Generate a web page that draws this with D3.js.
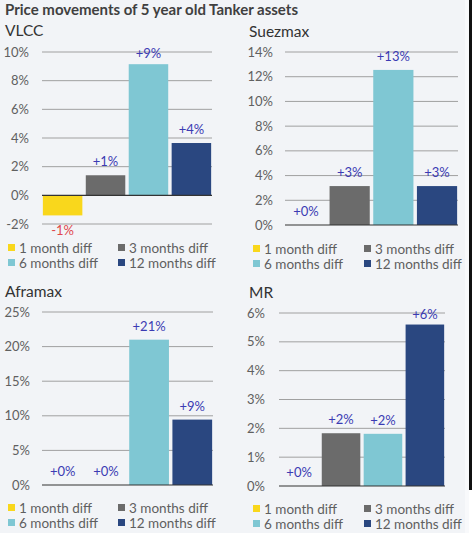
<!DOCTYPE html>
<html><head><meta charset="utf-8">
<script src="https://cdn.jsdelivr.net/npm/d3@7"></script>
<style>html,body{margin:0;padding:0;background:#fff;}svg{display:block;font-family:Lato,"Noto Sans",sans-serif;}</style>
</head><body>
<svg id="c" width="472" height="543"></svg>
<script>
const title = "Price movements of 5 year old Tanker assets";
const categories = ["1 month diff","3 months diff","6 months diff","12 months diff"];
const colors = ["#f9d71c","#6b6b6b","#7fc7d3","#2a4780"];
const panelNames = ["VLCC","Suezmax","Aframax","MR"];
const vlccValues = [-1.4, 1.4, 9.15, 3.65];
const suezmaxValues = [0, 3.15, 12.55, 3.15];
const aframaxValues = [0, 0, 21.0, 9.45];
const mrValues = [0, 1.83, 1.81, 5.6];
const vlccTicks = [-2,0,2,4,6,8,10];
const suezmaxTicks = [0,2,4,6,8,10,12,14];
const aframaxTicks = [0,5,10,15,20,25];
const mrTicks = [0,1,2,3,4,5,6];

const svg = d3.select("#c");
svg.append("rect").attr("x",0).attr("y",0).attr("width",465).attr("height",533).attr("fill","#f2f4f7");
svg.append("rect").attr("x",465).attr("y",0).attr("width",4).attr("height",533).attr("fill","#f8f9fb");
svg.append("rect").attr("x",469).attr("y",0).attr("width",3).attr("height",490).attr("fill","#111");

svg.append("text").attr("x",5).attr("y",15).attr("font-size",15).attr("font-weight","bold")
  .attr("fill","#404040").text(title);

const panels = [
  {name:panelNames[0], values:vlccValues, ticks:vlccTicks, x0:42, x1:212, yTop:52, yBot:224, nameX:5, nameY:36, tickX:29, legX:8, legX2:118, legY:248},
  {name:panelNames[1], values:suezmaxValues, ticks:suezmaxTicks, x0:285, x1:458, yTop:52, yBot:225, nameX:249, nameY:37, tickX:273, legX:253, legX2:364, legY:249},
  {name:panelNames[2], values:aframaxValues, ticks:aframaxTicks, x0:42, x1:213, yTop:312, yBot:485, nameX:5, nameY:297, tickX:30, legX:8, legX2:118, legY:508},
  {name:panelNames[3], values:mrValues, ticks:mrTicks, x0:279, x1:445, yTop:313, yBot:486, nameX:249, nameY:298, tickX:265, legX:253, legX2:364, legY:509}
];

panels.forEach(p => {
  const g = svg.append("g");
  const y = d3.scaleLinear().domain(d3.extent(p.ticks)).range([p.yBot, p.yTop]);
  const x = d3.scaleBand().domain(categories).range([p.x0, p.x1]).paddingInner(0.08).paddingOuter(0.02);

  g.append("text").attr("x",p.nameX).attr("y",p.nameY).attr("font-size",15.5).attr("fill","#333").text(p.name);

  g.selectAll("line.grid").data(p.ticks.filter(t=>t!==0)).join("line")
    .attr("x1",p.x0).attr("x2",p.x1).attr("y1",d=>y(d)).attr("y2",d=>y(d))
    .attr("stroke","#a0a0a0").attr("stroke-width",1);

  g.selectAll("text.tick").data(p.ticks).join("text")
    .attr("x",p.tickX).attr("y",d=>y(d)).attr("dy","0.35em").attr("text-anchor","end")
    .attr("font-size",13).attr("fill","#606060").text(d=>d+"%");

  g.selectAll("rect.bar").data(p.values).join("rect")
    .attr("x",(d,i)=>x(categories[i])).attr("width",x.bandwidth())
    .attr("y",d=>y(Math.max(0,d))).attr("height",d=>Math.abs(y(d)-y(0)))
    .attr("fill",(d,i)=>colors[i]);

  g.append("line").attr("x1",p.x0).attr("x2",p.x1).attr("y1",y(0)).attr("y2",y(0))
    .attr("stroke","#333").attr("stroke-width",1.2);

  g.selectAll("text.val").data(p.values).join("text")
    .attr("x",(d,i)=>x(categories[i])+x.bandwidth()/2)
    .attr("y",d=> d<0 ? y(d)+20 : Math.max(y(d)-9, p.yTop+6))
    .attr("text-anchor","middle").attr("font-size",13)
    .attr("fill",d=>d<0?"#e0474c":"#3b3bb3")
    .text(d=>{const r=Math.round(d); return (r<0?"":"+")+r+"%";});

  categories.forEach((c,i)=>{
    const lx = i%2===0 ? p.legX : p.legX2;
    const ly = p.legY + Math.floor(i/2)*15;
    g.append("rect").attr("x",lx).attr("y",ly-4).attr("width",7).attr("height",7).attr("fill",colors[i]);
    g.append("text").attr("x",lx+11).attr("y",ly).attr("dy","0.35em").attr("font-size",13.5)
      .attr("fill","#5f5f5f").text(c);
  });
});
</script>
</body></html>
